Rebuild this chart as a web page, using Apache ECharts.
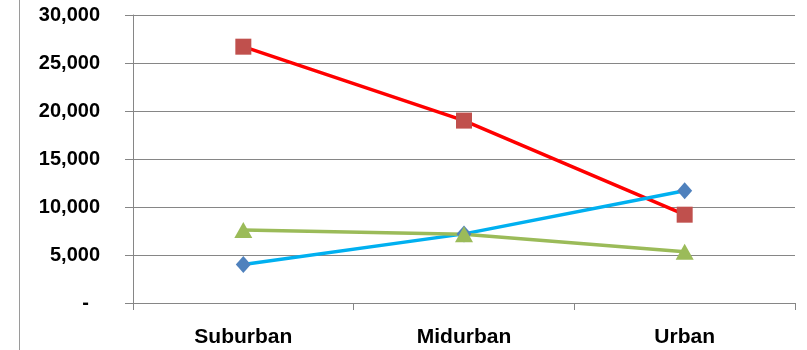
<!DOCTYPE html>
<html>
<head>
<meta charset="utf-8">
<script src="https://cdn.jsdelivr.net/npm/echarts@6/dist/echarts.min.js"></script>
<style>
  html, body { margin: 0; padding: 0; background: #fff; }
  #main { width: 807px; height: 350px; }
</style>
</head>
<body>
<div id="main"></div>
<script>
  // categories and values
  const categories = ['Suburban', 'Midurban', 'Urban']
  const redSeries = [26700, 19000, 9200]
  const blueSeries = [4000, 7200, 11700]
  const greenSeries = [7600, 7150, 5350]

  const axisGray = '#868686'

  const chart = echarts.init(document.getElementById('main'))
  chart.setOption({
    animation: false,
    // thin border line on the left edge of the picture
    graphic: [{
      type: 'line',
      shape: { x1: 19.5, y1: 0, x2: 19.5, y2: 350 },
      style: { stroke: '#9a9a9a', lineWidth: 1 }
    }],
    grid: { left: 133, right: 12, top: 15, bottom: 47 },
    xAxis: {
      type: 'category',
      data: categories,
      boundaryGap: true,
      axisLine: { lineStyle: { color: axisGray, width: 1 } },
      axisTick: { show: true, length: 7, lineStyle: { color: axisGray } },
      axisLabel: {
        margin: 24,
        color: '#000',
        fontFamily: 'Liberation Sans',
        fontWeight: 'bold',
        fontSize: 21
      }
    },
    yAxis: {
      type: 'value',
      min: 0,
      max: 30000,
      interval: 5000,
      axisLine: { show: true, lineStyle: { color: axisGray, width: 1 } },
      axisTick: { show: true, length: 8, lineStyle: { color: axisGray } },
      splitLine: { lineStyle: { color: axisGray, width: 1 } },
      axisLabel: {
        margin: 33,
        color: '#000',
        fontFamily: 'Liberation Sans',
        fontWeight: 'bold',
        fontSize: 20,
        // zero shows as an accounting dash, set in from the right
        formatter: v => v === 0 ? '-  ' : v.toLocaleString('en-US')
      }
    },
    series: [
      {
        name: 'red',
        type: 'line',
        data: redSeries,
        symbol: 'rect',
        symbolSize: 16,
        lineStyle: { color: '#FF0000', width: 3.5 },
        itemStyle: { color: '#C0504D' }
      },
      {
        name: 'blue',
        type: 'line',
        data: blueSeries,
        symbol: 'diamond',
        symbolSize: [15, 17],
        lineStyle: { color: '#00B0F0', width: 3.5 },
        itemStyle: { color: '#4F81BD' }
      },
      {
        name: 'green',
        type: 'line',
        data: greenSeries,
        symbol: 'triangle',
        symbolSize: [18, 16],
        lineStyle: { color: '#9BBB59', width: 3.5 },
        itemStyle: { color: '#9BBB59' }
      }
    ]
  })
</script>
</body>
</html>
